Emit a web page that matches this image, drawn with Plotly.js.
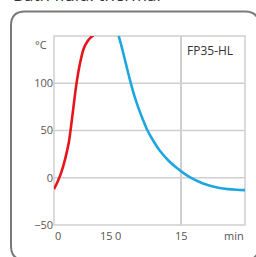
<!DOCTYPE html>
<html>
<head>
<meta charset="utf-8">
<script src="https://cdn.plot.ly/plotly-3.0.1.min.js"></script>
<style>html,body{margin:0;padding:0;background:#fff;}#chart{width:256px;height:257px;}</style>
</head>
<body>
<div id="chart"></div>
<script>
// Heating curve (left panel), minutes vs °C
const heatTime = [0, 1, 2, 3, 4, 5, 6, 7, 8, 9, 10, 10.7];
const heatTemp = [-12, -4, 6, 19.5, 37, 66, 97, 120, 136, 144, 148.5, 150.5];
// Cooling curve (right panel), minutes vs °C
const coolTime = [0.2, 1, 2, 3, 4, 5, 6, 7, 8, 10, 12, 14, 16, 18, 20, 22, 24, 26, 28, 30];
const coolTemp = [152, 139, 121, 103, 86.8, 73.4, 61.7, 50.8, 42.6, 28.5, 18.3, 10.3, 3.6, -1.8, -5.8, -8.8, -10.8, -12.0, -12.7, -13.1];
// Tick labels
const yTicks = [-50, 0, 50, 100];
const yGrid = [0, 50, 100];
const leftXTicks = [0, 15];
const rightXTicks = [0, 15];
const chartTitle = 'Bath fluid: thermal';
const unitLabel = '°C';
const timeLabel = 'min';
const modelLabel = 'FP35-HL';

const W = 256, H = 257, L = 54, R = 11, T = 36, B = 32;
const pw = W - L - R, ph = H - T - B;
const px = v => (v - L) / pw;
const py = v => 1 - (v - T) / ph;

const font = {family: '"Open Sans", "DejaVu Sans", sans-serif', size: 11, color: '#555'};
const gridCol = '#cfcfcf';

const traces = [
  {x: heatTime, y: heatTemp, xaxis: 'x', yaxis: 'y', mode: 'lines', line: {color: '#e5141d', width: 2.6, shape: 'spline', smoothing: 0.8}, hoverinfo: 'skip'},
  {x: coolTime, y: coolTemp, xaxis: 'x2', yaxis: 'y', mode: 'lines', line: {color: '#1fa6e0', width: 2.6, shape: 'spline', smoothing: 0.8}, hoverinfo: 'skip'}
];

// rounded frame
const fl = 11, ft = 11.5, fr = 259, fb = 260, rad = 14;
const framePath = [
  'M', px(fl), py(ft + rad),
  'Q', px(fl), py(ft), px(fl + rad), py(ft),
  'L', px(fr - rad), py(ft),
  'Q', px(fr), py(ft), px(fr), py(ft + rad),
  'L', px(fr), py(fb - rad),
  'Q', px(fr), py(fb), px(fr - rad), py(fb),
  'L', px(fl + rad), py(fb),
  'Q', px(fl), py(fb), px(fl), py(fb - rad),
  'Z'
].join(' ');

const shapes = [
  {type: 'path', xref: 'paper', yref: 'paper', path: framePath, line: {color: '#7a7a7a', width: 2}, layer: 'below'},
  {type: 'rect', xref: 'paper', yref: 'paper', x0: 0, x1: 1, y0: 0, y1: 1, line: {color: gridCol, width: 1.5}, layer: 'below'}
];
yGrid.forEach(v => shapes.push({type: 'line', xref: 'paper', yref: 'y', x0: 0, x1: 1, y0: v, y1: v, line: {color: gridCol, width: 1.5}, layer: 'below'}));

const annotations = [
  {text: chartTitle, xref: 'paper', yref: 'paper', x: px(11), y: py(8.5), xanchor: 'left', yanchor: 'bottom', showarrow: false, font: {family: font.family, size: 17, color: '#333'}},
  {text: unitLabel, xref: 'paper', yref: 'paper', x: px(49), y: py(44), xanchor: 'right', yanchor: 'middle', showarrow: false, font: font},
  {text: timeLabel, xref: 'paper', yref: 'paper', x: px(246), y: py(235), xanchor: 'right', yanchor: 'middle', showarrow: false, font: font},
  {text: modelLabel, xref: 'paper', yref: 'paper', x: px(210), y: py(51), xanchor: 'center', yanchor: 'middle', showarrow: false, font: {family: font.family, size: 12, color: '#333'}}
];
const leftShift = [4, -3];
leftXTicks.forEach((v, i) => annotations.push({text: String(v), xref: 'x', yref: 'paper', x: v, y: py(235), xshift: leftShift[i], xanchor: 'center', yanchor: 'middle', showarrow: false, font: font}));
const rightShift = [1, 0];
rightXTicks.forEach((v, i) => annotations.push({text: String(v), xref: 'x2', yref: 'paper', x: v, y: py(235), xshift: rightShift[i], xanchor: 'center', yanchor: 'middle', showarrow: false, font: font}));

const xCommon = {showgrid: true, gridcolor: gridCol, gridwidth: 1.5, zeroline: false, showline: false, ticks: '', showticklabels: false, fixedrange: true, anchor: 'y'};
const layout = {
  width: W, height: H,
  margin: {l: L, r: R, t: T, b: B, pad: 0},
  paper_bgcolor: '#fff', plot_bgcolor: 'rgba(0,0,0,0)',
  showlegend: false,
  font: font,
  xaxis: Object.assign({}, xCommon, {domain: [0, px(109.3)], range: [0, 15], tickvals: leftXTicks}),
  xaxis2: Object.assign({}, xCommon, {domain: [px(117.3), 1], range: [0, 30], tickvals: rightXTicks}),
  yaxis: {range: [-50, 150], tickvals: yTicks, showgrid: false, zeroline: false, showline: false, ticks: '', ticklabelstandoff: 0, tickfont: font, fixedrange: true},
  shapes: shapes,
  annotations: annotations
};

Plotly.newPlot('chart', traces, layout, {staticPlot: true, displayModeBar: false});
</script>
</body>
</html>
